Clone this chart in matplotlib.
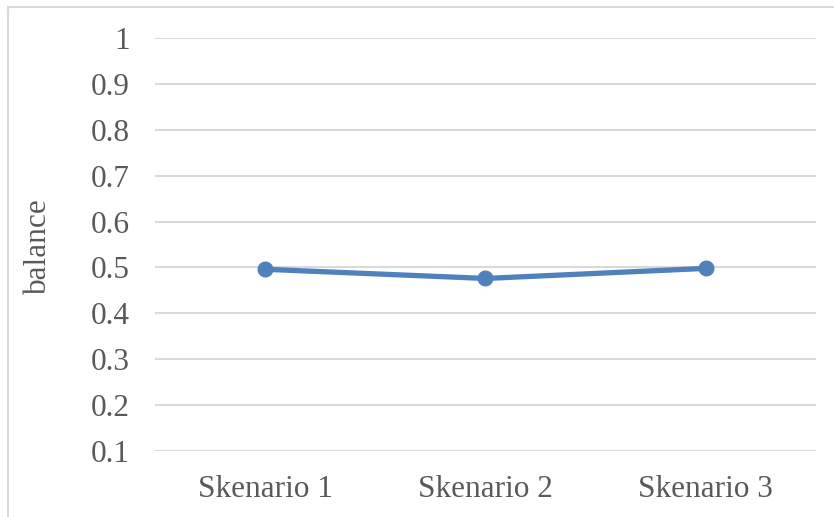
"""Line chart of balance per scenario."""

import matplotlib
matplotlib.use("Agg")
import matplotlib.pyplot as plt
from matplotlib.lines import Line2D

scenarios = ["Skenario 1", "Skenario 2", "Skenario 3"]
balance = [0.496, 0.476, 0.498]
y_ticks = [0.1, 0.2, 0.3, 0.4, 0.5, 0.6, 0.7, 0.8, 0.9, 1.0]
y_tick_labels = ["0.1", "0.2", "0.3", "0.4", "0.5", "0.6", "0.7", "0.8", "0.9", "1"]

plt.rcParams["font.family"] = ["Liberation Serif", "DejaVu Serif"]

W, H = 834, 517
fig = plt.figure(figsize=(W / 100, H / 100), dpi=100)

# chart frame, clipped at the right and bottom edges
frame_color = "#d9d9d9"
fig.add_artist(Line2D([8 / W, 8 / W], [0, 1 - 7 / H], color=frame_color, lw=1.5,
                      transform=fig.transFigure))
fig.add_artist(Line2D([8 / W, 1], [1 - 7 / H, 1 - 7 / H], color=frame_color, lw=1.5,
                      transform=fig.transFigure))

left, right, top, bottom = 155 / W, 816 / W, 1 - 38 / H, 1 - 451 / H
ax = fig.add_axes([left, bottom, right - left, top - bottom])

x = list(range(len(scenarios)))
ax.plot(x, balance, color="#4f81bd", lw=3.8, marker="o", markersize=10.5,
        solid_capstyle="round", zorder=3)

ax.set_xlim(-0.5, len(scenarios) - 0.5)
ax.set_ylim(0.1, 1.0)
ax.set_yticks(y_ticks)
ax.set_yticklabels(y_tick_labels)
ax.set_xticks(x)
ax.set_xticklabels(scenarios)

ax.grid(axis="y", color="#d9d9d9", lw=1.5)
ax.set_axisbelow(True)
for s in ax.spines.values():
    s.set_visible(False)

ax.tick_params(axis="y", length=0, pad=18, labelsize=22.5, labelcolor="#595959")
ax.tick_params(axis="x", length=0, pad=17, labelsize=22.5, labelcolor="#595959")

fig.text(38 / W, 1 - 246 / H, "balance", rotation=90, ha="center", va="center",
         fontsize=22.5, color="#595959")

fig.savefig("out.png", dpi=100)
